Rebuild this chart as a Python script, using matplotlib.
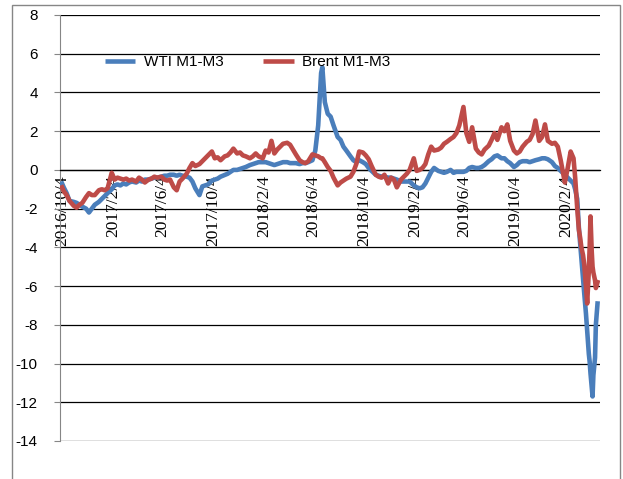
import pandas as pd
import matplotlib
matplotlib.use('Agg')
import matplotlib.pyplot as plt
from matplotlib.patches import Rectangle

# WTI / Brent M1-M3 spreads
dates = [
    '2016-10-04', '2016-10-08', '2016-10-15', '2016-10-22',
    '2016-11-01', '2016-11-08', '2016-11-15', '2016-11-22',
    '2016-12-01', '2016-12-08', '2016-12-15', '2016-12-22',
    '2017-01-01', '2017-01-08', '2017-01-15', '2017-01-22',
    '2017-02-01', '2017-02-08', '2017-02-15', '2017-02-22',
    '2017-03-01', '2017-03-08', '2017-03-15', '2017-03-22',
    '2017-04-01', '2017-04-08', '2017-04-15', '2017-04-22',
    '2017-05-01', '2017-05-08', '2017-05-15', '2017-05-22',
    '2017-06-01', '2017-06-08', '2017-06-15', '2017-06-22',
    '2017-07-01', '2017-07-08', '2017-07-15', '2017-07-22',
    '2017-08-01', '2017-08-08', '2017-08-15', '2017-08-22',
    '2017-09-01', '2017-09-08', '2017-09-15', '2017-09-22',
    '2017-10-01', '2017-10-08', '2017-10-15', '2017-10-22',
    '2017-11-01', '2017-11-08', '2017-11-15', '2017-11-22',
    '2017-12-01', '2017-12-08', '2017-12-15', '2017-12-22',
    '2018-01-01', '2018-01-08', '2018-01-15', '2018-01-22',
    '2018-02-01', '2018-02-08', '2018-02-15', '2018-02-22',
    '2018-03-01', '2018-03-08', '2018-03-15', '2018-03-22',
    '2018-04-01', '2018-04-08', '2018-04-15', '2018-04-22',
    '2018-05-01', '2018-05-08', '2018-05-15', '2018-05-22',
    '2018-06-01', '2018-06-08', '2018-06-15', '2018-06-22', '2018-06-25',
    '2018-07-01', '2018-07-08', '2018-07-15', '2018-07-22',
    '2018-08-01', '2018-08-08', '2018-08-15', '2018-08-22',
    '2018-09-01', '2018-09-08', '2018-09-15', '2018-09-22',
    '2018-10-01', '2018-10-08', '2018-10-15', '2018-10-22',
    '2018-11-01', '2018-11-08', '2018-11-15', '2018-11-22',
    '2018-12-01', '2018-12-08', '2018-12-15', '2018-12-22',
    '2019-01-01', '2019-01-08', '2019-01-15', '2019-01-22',
    '2019-02-01', '2019-02-08', '2019-02-15', '2019-02-22',
    '2019-03-01', '2019-03-08', '2019-03-15', '2019-03-22',
    '2019-04-01', '2019-04-08', '2019-04-15', '2019-04-22',
    '2019-05-01', '2019-05-08', '2019-05-15', '2019-05-22',
    '2019-06-01', '2019-06-08', '2019-06-15', '2019-06-22',
    '2019-07-01', '2019-07-08', '2019-07-15', '2019-07-22',
    '2019-08-01', '2019-08-08', '2019-08-15', '2019-08-22',
    '2019-09-01', '2019-09-08', '2019-09-15', '2019-09-22',
    '2019-10-01', '2019-10-08', '2019-10-15', '2019-10-22',
    '2019-11-01', '2019-11-08', '2019-11-15', '2019-11-22',
    '2019-12-01', '2019-12-08', '2019-12-15', '2019-12-22',
    '2020-01-01', '2020-01-08', '2020-01-15', '2020-01-22',
    '2020-02-01', '2020-02-08', '2020-02-15', '2020-02-22', '2020-02-26',
    '2020-03-02', '2020-03-06', '2020-03-09', '2020-03-12', '2020-03-16',
    '2020-03-19', '2020-03-23', '2020-03-26', '2020-03-30', '2020-04-01',
    '2020-04-03', '2020-04-06', '2020-04-08', '2020-04-10', '2020-04-14',
    '2020-04-16', '2020-04-20',
]

wti = [
    -0.7, -0.9, -1.2, -1.6,
    -1.65, -1.7, -1.8, -1.9,
    -2.0, -2.2, -2.0, -1.8,
    -1.65, -1.5, -1.35, -1.2,
    -1.0, -0.8, -0.75, -0.8,
    -0.7, -0.75, -0.65, -0.6,
    -0.65, -0.55, -0.6, -0.5,
    -0.5, -0.45, -0.4, -0.4,
    -0.35, -0.3, -0.3, -0.25,
    -0.25, -0.3, -0.25, -0.3,
    -0.35, -0.4, -0.6, -0.95,
    -1.3, -0.85, -0.8, -0.75,
    -0.55, -0.5, -0.45, -0.35,
    -0.26, -0.2, -0.1, 0.0,
    0.0, 0.05, 0.1, 0.15,
    0.25, 0.3, 0.35, 0.4,
    0.4, 0.4, 0.35, 0.3,
    0.25, 0.3, 0.35, 0.4,
    0.4, 0.35, 0.35, 0.35,
    0.3, 0.35, 0.35, 0.4,
    0.5, 1.0, 2.3, 5.0, 5.3,
    3.5, 2.9, 2.75, 2.3,
    1.7, 1.55, 1.2, 1.0,
    0.7, 0.5, 0.4, 0.5,
    0.4, 0.3, 0.1, -0.05,
    -0.25, -0.3, -0.35, -0.35,
    -0.4, -0.4, -0.45, -0.5,
    -0.6, -0.6, -0.6, -0.6,
    -0.8, -0.9, -0.95, -0.9,
    -0.7, -0.4, -0.1, 0.1,
    -0.05, -0.1, -0.15, -0.1,
    0.0, -0.15, -0.1, -0.1,
    -0.1, -0.05, 0.1, 0.15,
    0.1, 0.1, 0.15, 0.25,
    0.45, 0.55, 0.7, 0.75,
    0.6, 0.6, 0.45, 0.35,
    0.15, 0.25, 0.4, 0.45,
    0.45, 0.4, 0.45, 0.5,
    0.55, 0.6, 0.6, 0.55,
    0.4, 0.2, 0.1, -0.05,
    -0.25, -0.4, -0.55, -0.7, -1.0,
    -1.5, -3.0, -3.8, -4.6, -5.7,
    -6.4, -7.4, -8.3, -9.5, -9.9,
    -10.5, -11.2, -11.7, -10.6, -9.7,
    -8.0, -6.9,
]

brent = [
    -0.9, -1.1, -1.3, -1.6,
    -1.85, -1.95, -1.8, -1.7,
    -1.4, -1.2, -1.3, -1.3,
    -1.05, -1.0, -1.05, -0.95,
    -0.15, -0.5, -0.4, -0.45,
    -0.5, -0.45, -0.55, -0.5,
    -0.6, -0.4, -0.5, -0.65,
    -0.5, -0.45, -0.35, -0.4,
    -0.35, -0.5, -0.55, -0.5,
    -0.9, -1.05, -0.6, -0.45,
    -0.2, 0.1, 0.35, 0.2,
    0.3, 0.45, 0.6, 0.75,
    0.95, 0.6, 0.65, 0.5,
    0.7, 0.75, 0.9, 1.1,
    0.85, 0.9, 0.75, 0.7,
    0.6, 0.7, 0.85, 0.7,
    0.6, 1.0, 0.9, 1.5,
    0.85, 1.05, 1.2, 1.35,
    1.4, 1.3, 1.05, 0.8,
    0.5, 0.4, 0.35, 0.45,
    0.8, 0.75, 0.7, 0.6, 0.6,
    0.4, 0.15, -0.05, -0.4,
    -0.8, -0.65, -0.55, -0.45,
    -0.35, -0.1, 0.3, 0.95,
    0.9, 0.75, 0.55, 0.2,
    -0.25, -0.35, -0.4, -0.25,
    -0.7, -0.4, -0.5, -0.9,
    -0.5, -0.35, -0.2, 0.0,
    0.6, -0.05, 0.0, 0.1,
    0.3, 0.8, 1.2, 1.0,
    1.05, 1.15, 1.35, 1.45,
    1.6, 1.7, 1.9, 2.3,
    3.25, 1.9, 1.45, 2.2,
    1.1, 0.9, 0.8, 1.05,
    1.25, 1.55, 1.9, 1.55,
    2.2, 2.0, 2.35, 1.5,
    1.0, 0.85, 0.95, 1.2,
    1.45, 1.55, 1.85, 2.55,
    1.5, 1.7, 2.35, 1.5,
    1.35, 1.4, 1.2, 0.5,
    -0.65, 0.1, 0.95, 0.6, -0.4,
    -2.0, -3.1, -3.5, -4.0, -4.4,
    -4.9, -6.0, -6.9, -5.2, -4.0,
    -2.4, -4.2, -5.0, -5.3, -5.7,
    -6.1, -5.8,
]

tick_dates = ['2016-10-04', '2017-02-04', '2017-06-04', '2017-10-04',
              '2018-02-04', '2018-06-04', '2018-10-04', '2019-02-04',
              '2019-06-04', '2019-10-04', '2020-02-04']
tick_labels = ['2016/10/4', '2017/2/4', '2017/6/4', '2017/10/4',
               '2018/2/4', '2018/6/4', '2018/10/4', '2019/2/4',
               '2019/6/4', '2019/10/4', '2020/2/4']
y_ticks = list(range(-14, 9, 2))

df = pd.DataFrame({'WTI M1-M3': wti, 'Brent M1-M3': brent},
                  index=pd.to_datetime(dates))

plt.rcParams['font.family'] = ['Liberation Sans', 'DejaVu Sans']

fig = plt.figure(figsize=(6.23, 4.79), dpi=100)
ax = fig.add_axes([60 / 623, 1 - 441 / 479, 540 / 623, 426 / 479])

ax.plot(df.index, df['WTI M1-M3'], color='#4A7EBB', linewidth=3.3,
        label='WTI M1-M3', solid_joinstyle='round', zorder=3)
ax.plot(df.index, df['Brent M1-M3'], color='#BE4B48', linewidth=3.3,
        label='Brent M1-M3', solid_joinstyle='round', zorder=3)

ax.set_ylim(-14, 8)
ax.set_xlim(pd.Timestamp('2016-09-29'), pd.Timestamp('2020-04-26'))
ax.set_yticks(y_ticks)
ax.set_yticklabels([str(v) for v in y_ticks], fontsize=11)
ax.yaxis.grid(True, color='black', linewidth=0.9)
ax.set_axisbelow(True)

# date axis sits on the zero line
ax.spines['bottom'].set_position(('data', 0))
ax.spines['bottom'].set_color('black')
ax.spines['bottom'].set_linewidth(0.9)
ax.spines['top'].set_visible(False)
ax.spines['right'].set_visible(False)
ax.spines['left'].set_color('#868686')
ax.tick_params(axis='y', length=4, color='#868686', pad=12)
ax.set_xticks(pd.to_datetime(tick_dates))
ax.set_xticklabels(tick_labels, rotation=90, fontsize=12.5,
                   family='Liberation Serif', rotation_mode='anchor',
                   ha='right', va='center')
ax.tick_params(axis='x', length=0, pad=4)

leg = ax.legend(loc='center left', bbox_to_anchor=(0.083, 0.89), ncol=2,
                frameon=False, fontsize=11, handlelength=2.0,
                handletextpad=0.55, columnspacing=2.6, borderpad=0,
                borderaxespad=0)
for line in leg.get_lines():
    line.set_solid_capstyle('butt')

# outer chart border
fig.add_artist(Rectangle((12 / 623, -0.05), 608 / 623, 1.05 - 5 / 479,
                         transform=fig.transFigure, fill=False,
                         edgecolor='#868686', linewidth=1))

fig.savefig('out.png', dpi=100)
